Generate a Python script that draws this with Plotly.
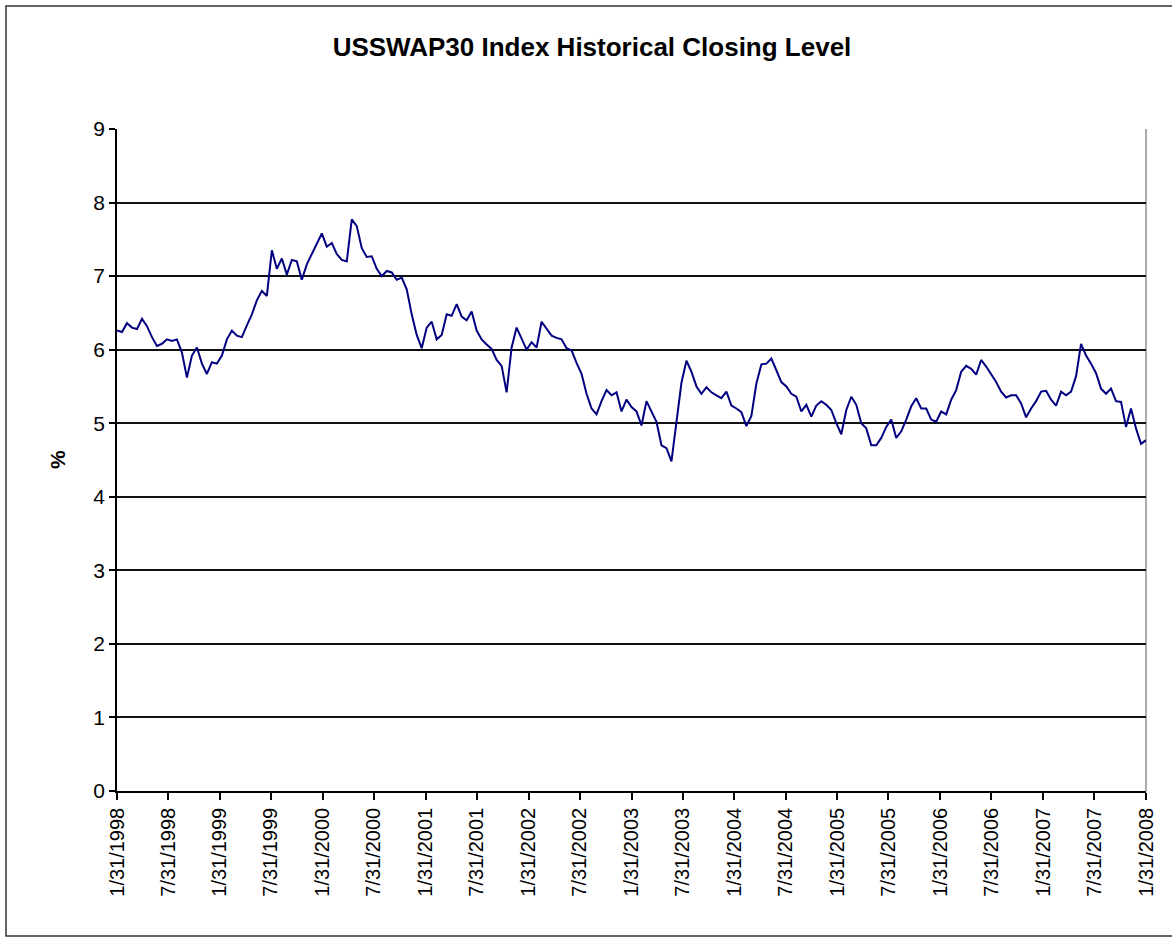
import pandas as pd
import plotly.graph_objects as go

# ---- data ----
start_date = "1998-01-31"
end_date = "2008-01-31"

swap30_values = [
    6.26, 6.24, 6.36, 6.30, 6.28, 6.42, 6.32, 6.17, 6.05, 6.08,
    6.14, 6.12, 6.14, 5.96, 5.62, 5.92, 6.03, 5.81, 5.67, 5.83,
    5.81, 5.92, 6.14, 6.26, 6.19, 6.17, 6.33, 6.48, 6.67, 6.80,
    6.73, 7.35, 7.10, 7.24, 7.02, 7.22, 7.20, 6.95, 7.16, 7.30,
    7.45, 7.58, 7.40, 7.45, 7.30, 7.22, 7.20, 7.77, 7.68, 7.38,
    7.26, 7.27, 7.10, 7.00, 7.07, 7.05, 6.95, 6.98, 6.82, 6.48,
    6.20, 6.02, 6.30, 6.38, 6.14, 6.20, 6.48, 6.46, 6.62, 6.45,
    6.40, 6.52, 6.26, 6.14, 6.07, 6.01, 5.86, 5.78, 5.42, 6.03,
    6.30, 6.16, 6.00, 6.10, 6.03, 6.38, 6.28, 6.19, 6.16, 6.14,
    6.02, 5.99, 5.82, 5.67, 5.40, 5.20, 5.12, 5.30, 5.45, 5.38,
    5.42, 5.16, 5.32, 5.22, 5.16, 4.97, 5.30, 5.16, 5.02, 4.70,
    4.66, 4.48, 5.04, 5.55, 5.85, 5.70, 5.50, 5.40, 5.49, 5.42,
    5.38, 5.34, 5.43, 5.24, 5.20, 5.15, 4.96, 5.10, 5.54, 5.80,
    5.81, 5.88, 5.72, 5.56, 5.50, 5.40, 5.36, 5.16, 5.25, 5.09,
    5.24, 5.30, 5.25, 5.18, 5.00, 4.85, 5.18, 5.36, 5.25, 5.00,
    4.93, 4.70, 4.70, 4.80, 4.95, 5.05, 4.80, 4.89, 5.05, 5.23,
    5.34, 5.20, 5.20, 5.05, 5.02, 5.16, 5.12, 5.32, 5.45, 5.70,
    5.78, 5.74, 5.66, 5.86, 5.77, 5.66, 5.56, 5.43, 5.35, 5.38,
    5.38, 5.27, 5.08, 5.20, 5.30, 5.43, 5.44, 5.32, 5.24, 5.43,
    5.38, 5.43, 5.64, 6.08, 5.92, 5.81, 5.68, 5.47, 5.40, 5.47,
    5.30, 5.29, 4.95, 5.20, 4.93, 4.72, 4.77,
]
swap30_dates = pd.date_range(start_date, end_date, periods=len(swap30_values))

tick_dates = [
    "1998-01-31", "1998-07-31", "1999-01-31", "1999-07-31", "2000-01-31",
    "2000-07-31", "2001-01-31", "2001-07-31", "2002-01-31", "2002-07-31",
    "2003-01-31", "2003-07-31", "2004-01-31", "2004-07-31", "2005-01-31",
    "2005-07-31", "2006-01-31", "2006-07-31", "2007-01-31", "2007-07-31",
    "2008-01-31",
]
tick_labels = [
    "1/31/1998", "7/31/1998", "1/31/1999", "7/31/1999", "1/31/2000",
    "7/31/2000", "1/31/2001", "7/31/2001", "1/31/2002", "7/31/2002",
    "1/31/2003", "7/31/2003", "1/31/2004", "7/31/2004", "1/31/2005",
    "7/31/2005", "1/31/2006", "7/31/2006", "1/31/2007", "7/31/2007",
    "1/31/2008",
]

title_text = "USSWAP30 Index Historical Closing Level"
y_title = "%"

# ---- figure ----
W, H = 1172, 939
L, R, T, B = 117, 26, 129, 148
pw, ph = W - L - R, H - T - B

def px_x(x):
    return (x - L) / pw

def px_y(y):
    return (H - B - y) / ph

FONT = "Liberation Sans, Arial, sans-serif"

fig = go.Figure()
fig.add_trace(go.Scatter(
    x=swap30_dates, y=swap30_values, mode="lines",
    line=dict(color="#000080", width=2),
    hoverinfo="x+y", showlegend=False,
))

fig.update_layout(
    width=W, height=H, autosize=False,
    margin=dict(l=L, r=R, t=T, b=B, pad=0),
    paper_bgcolor="white", plot_bgcolor="white",
    font=dict(family=FONT, color="black"),
    title=dict(text=f"<b>{title_text}</b>", x=592 / W, xref="container",
               xanchor="center", y=1 - 47 / H, yref="container", yanchor="middle",
               font=dict(size=26, family=FONT, color="black")),
    xaxis=dict(
        type="date", range=[start_date, end_date],
        tickmode="array", tickvals=tick_dates, ticktext=tick_labels,
        tickangle=-90, tickfont=dict(size=20, family=FONT),
        ticks="outside", ticklen=7, tickwidth=1.5, tickcolor="black",
        showline=True, linecolor="black", linewidth=1.5,
        showgrid=False, zeroline=False,
    ),
    yaxis=dict(
        range=[0, 9], dtick=1, tick0=0,
        tickfont=dict(size=21, family=FONT),
        ticks="outside", ticklen=6, tickwidth=1.5, tickcolor="black",
        showline=True, linecolor="black", linewidth=1.5,
        showgrid=True, gridcolor="#111111", gridwidth=1.6,
        zeroline=False,
    ),
    shapes=[
        dict(type="line", xref="paper", yref="paper", x0=1, x1=1, y0=0, y1=1,
             line=dict(color="#909090", width=1.5), layer="below"),
        dict(type="rect", xref="paper", yref="paper",
             x0=px_x(6), x1=px_x(1178), y0=px_y(936), y1=px_y(6),
             line=dict(color="#333333", width=1.5), layer="below"),
    ],
    annotations=[
        dict(text=f"<b>{y_title}</b>", xref="paper", yref="paper",
             x=px_x(57), y=px_y(460), xanchor="center", yanchor="middle",
             textangle=-90, showarrow=False, font=dict(size=21, family=FONT)),
    ],
)

fig.write_html("out.html", config={"displayModeBar": False},
               post_script="document.body.style.margin='0px';")
